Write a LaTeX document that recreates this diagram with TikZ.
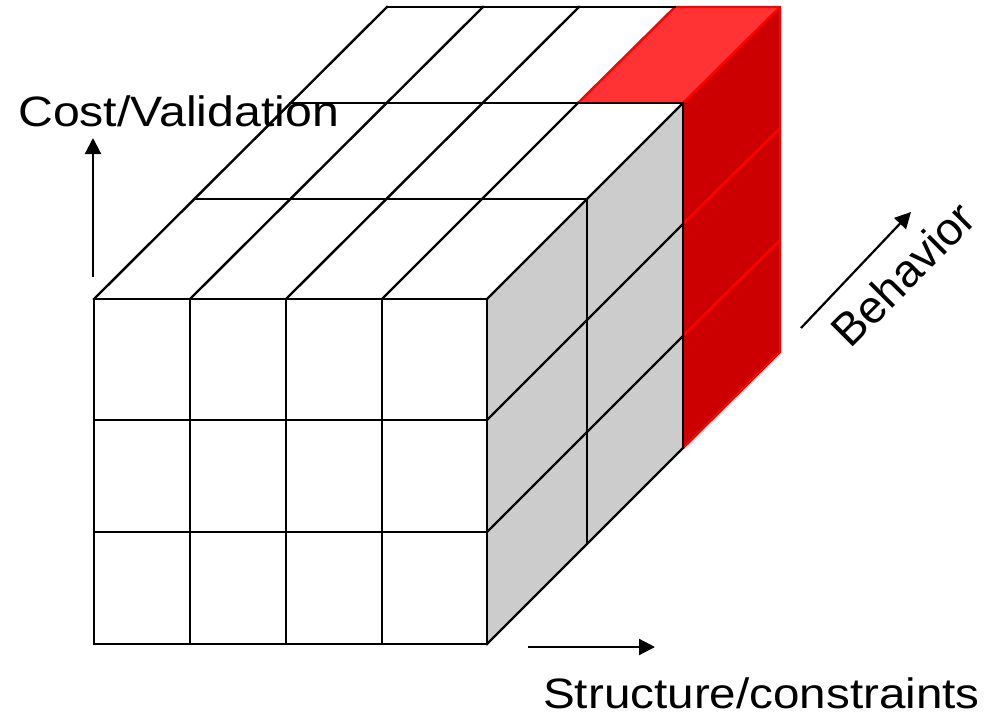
\documentclass[tikz,border=0pt]{standalone}
\usepackage{fontspec}
\setmainfont{Liberation Sans}
\usetikzlibrary{arrows.meta}
\definecolor{sidegray}{RGB}{204,204,204}
\definecolor{redside}{RGB}{204,0,0}
\definecolor{redtop}{RGB}{255,51,51}
\definecolor{rededge}{RGB}{255,0,0}
\begin{document}
\begin{tikzpicture}[x=1pt,y=-1pt,
  gridline/.style={draw=black, line width=2.4pt, line cap=rect},
  redline/.style={draw=rededge, line width=2.4pt, line cap=round},
  axisarrow/.style={draw=black, line width=2.2pt, -{Triangle[length=16pt,width=16pt]}},
  axislabel/.style={font=\fontsize{42.5}{46}\selectfont, inner sep=0pt}]
\useasboundingbox (0,0) rectangle (991,718);
% fills
\fill[sidegray] (487,299) -- (683,103) -- (683,448) -- (487,644) -- cycle;
\fill[redside] (683,103) -- (780,7) -- (780,352) -- (683,448) -- cycle;
\fill[redtop] (578,103) -- (683,103) -- (780,7) -- (675,7) -- cycle;
% red edges
\draw[redline] (578,103) -- (675,7) -- (780,7) -- (780,352);
\foreach \y in {299,420,532,644}
  \draw[redline] (683,\y-196) -- (780,\y-292);
% front face grid
\foreach \x in {94,190,286,382,487}
  \draw[gridline] (\x,299) -- (\x,644);
\foreach \y in {299,420,532,644}
  \draw[gridline] (94,\y) -- (487,\y);
% top face horizontals and side verticals (depth 1, 2)
\foreach \dx in {100,196} {
  \draw[gridline] (94+\dx,299-\dx) -- (487+\dx,299-\dx);
  \draw[gridline] (487+\dx,299-\dx) -- (487+\dx,644-\dx);
}
\draw[gridline] (387,7) -- (675,7);
% top face diagonals
\foreach \x in {94,190,286}
  \draw[gridline] (\x,299) -- (\x+293,7);
\foreach \x in {382,487}
  \draw[gridline] (\x,299) -- (\x+196,103);
% side face diagonals
\foreach \y in {420,532,644}
  \draw[gridline] (487,\y) -- (683,\y-196);
% axes
\coordinate (cvS) at (93,277);
\coordinate (cvE) at (93,138);
\coordinate (scS) at (528,647);
\coordinate (scE) at (655,647);
\coordinate (bhS) at (801,328);
\coordinate (bhE) at (911,212);
\draw[axisarrow] (cvS) -- (cvE);
\draw[axisarrow] (scS) -- (scE);
\draw[axisarrow] (bhS) -- (bhE);
\node[axislabel, anchor=base west, xscale=1.135] (cv) at (18,126) {Cost/Validation};
\node[axislabel, anchor=base west, xscale=1.12] (sc) at (543,708) {Structure/constraints};
\node[font=\fontsize{46}{50}\selectfont, inner sep=0pt, rotate=45] (bh) at (903,274) {Behavior};
\end{tikzpicture}
\end{document}
